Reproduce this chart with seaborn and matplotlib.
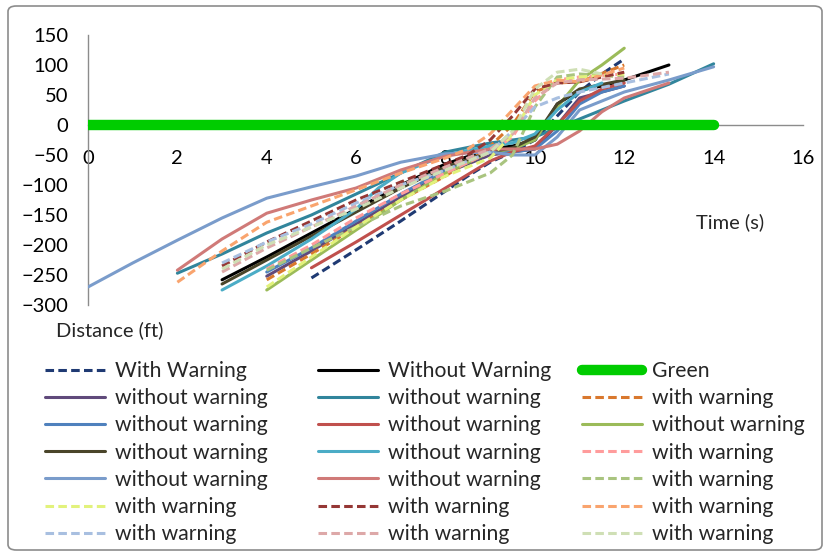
import matplotlib
matplotlib.use("Agg")
import matplotlib.pyplot as plt
import seaborn as sns
import pandas as pd
from matplotlib.patches import FancyBboxPatch
from matplotlib.lines import Line2D

# ---------------- data ----------------
labels = ["With Warning", "Without Warning", "Green",
          "without warning", "without warning", "with warning",
          "without warning", "without warning", "without warning",
          "without warning", "without warning", "with warning",
          "without warning", "without warning", "with warning",
          "with warning", "with warning", "with warning",
          "with warning", "with warning", "with warning"]

colors = ["#1F3A73", "#000000", "#00CC00",
          "#604A7B", "#31859C", "#D9782E",
          "#4F81BD", "#C0504D", "#9BBB59",
          "#4A452A", "#4BACC6", "#FF9C9C",
          "#7A9CCB", "#D07A78", "#A9C47F",
          "#E2F27C", "#953735", "#F9A46E",
          "#A8BFE0", "#DDA8A8", "#CFDFB5"]

dashed = [True, False, False,
          False, False, True,
          False, False, False,
          False, False, True,
          False, False, True,
          True, True, True,
          True, True, True]

time_01 = [5, 6, 7, 8, 8.5, 9, 9.5, 10, 10.5, 11, 11.5, 12]
dist_01 = [-255, -208, -160, -110, -85, -62, -45, -25, 15, 55, 85, 110]
time_02 = [3, 4, 5, 6, 7, 8, 9, 9.5, 10, 10.5, 11, 11.5, 12, 13]
dist_02 = [-258, -220, -180, -140, -100, -65, -40, -35, -25, 35, 58, 65, 75, 100]
time_03 = [0, 14]
dist_03 = [0, 0]
time_04 = [4, 5, 6, 7, 8, 9, 9.5, 10, 10.5, 11, 12]
dist_04 = [-252, -210, -165, -120, -80, -50, -45, -40, 0, 45, 65]
time_05 = [2, 3, 4, 5, 6, 7, 8, 9, 9.5, 10, 10.5, 11, 11.5, 12, 13, 14]
dist_05 = [-247, -215, -180, -150, -115, -80, -45, -30, -25, -20, -5, 10, 25, 40, 68, 102]
time_06 = [4, 5, 6, 7, 8, 8.5, 9, 9.5, 10, 10.5, 11, 12]
dist_06 = [-258, -215, -170, -125, -85, -60, -35, 0, 55, 70, 72, 100]
time_07 = [4, 5, 6, 7, 8, 9, 9.5, 10, 10.5, 11, 11.5, 12]
dist_07 = [-245, -205, -160, -115, -75, -45, -45, -40, -10, 35, 55, 65]
time_08 = [5, 6, 7, 8, 9, 9.5, 10, 10.5, 11, 11.5, 12]
dist_08 = [-238, -195, -150, -105, -60, -45, -35, 0, 40, 60, 70]
time_09 = [4, 5, 6, 7, 8, 9, 9.5, 10, 10.5, 11, 11.5, 12]
dist_09 = [-275, -225, -175, -125, -80, -45, -40, -25, 30, 75, 100, 128]
time_10 = [3, 4, 5, 6, 7, 8, 9, 9.5, 10, 10.5, 11, 12]
dist_10 = [-265, -225, -185, -145, -105, -70, -45, -38, -20, 35, 60, 75]
time_11 = [3, 4, 5, 6, 6.5, 7, 8, 9, 9.5, 10, 10.5, 11, 11.5]
dist_11 = [-275, -235, -190, -140, -105, -80, -50, -35, -30, -15, 25, 55, 70]
time_12 = [4, 5, 6, 7, 8, 9, 9.5, 10, 10.5, 11, 12]
dist_12 = [-240, -200, -155, -115, -80, -45, -20, 40, 75, 80, 85]
time_13 = [0, 1, 2, 3, 4, 5, 6, 7, 7.5, 8, 9, 9.5, 10, 10.5, 11, 12, 13, 14]
dist_13 = [-270, -230, -192, -155, -122, -103, -85, -62, -55, -48, -45, -50, -50, -20, 25, 55, 75, 97]
time_14 = [2, 3, 4, 5, 6, 7, 8, 9, 9.5, 10, 10.5, 11, 11.5, 12, 13]
dist_14 = [-242, -190, -147, -125, -105, -75, -52, -40, -40, -40, -32, -10, 22, 45, 70]
time_15 = [4, 5, 6, 7, 8, 8.5, 9, 9.5, 10, 10.5, 11, 12]
dist_15 = [-242, -205, -170, -135, -110, -95, -80, -50, 30, 80, 85, 80]
time_16 = [4, 5, 6, 7, 8, 9, 9.5, 10, 10.5, 11, 12]
dist_16 = [-270, -220, -170, -125, -85, -55, -15, 50, 75, 80, 85]
time_17 = [3, 4, 5, 6, 7, 8, 8.5, 9, 9.5, 10, 10.5, 11, 12]
dist_17 = [-235, -195, -160, -125, -95, -65, -50, -25, 15, 60, 70, 72, 88]
time_18 = [2, 3, 4, 5, 6, 7, 8, 8.5, 9, 9.5, 10, 10.5, 11, 12]
dist_18 = [-262, -210, -162, -135, -108, -80, -55, -40, -15, 25, 65, 75, 72, 95]
time_19 = [3, 4, 5, 6, 7, 8, 9, 9.5, 10, 10.5, 11, 12, 13]
dist_19 = [-230, -195, -165, -130, -100, -75, -45, -10, 30, 45, 55, 70, 85]
time_20 = [3, 4, 5, 6, 7, 8, 9, 9.5, 10, 10.5, 11, 12, 13]
dist_20 = [-245, -205, -170, -135, -100, -70, -40, -15, 45, 70, 75, 78, 88]
time_21 = [3, 4, 5, 6, 7, 8, 9, 9.5, 10, 10.5, 11, 11.5]
dist_21 = [-240, -200, -170, -140, -105, -75, -45, -10, 60, 88, 93, 85]

times = [time_01, time_02, time_03, time_04, time_05, time_06, time_07,
         time_08, time_09, time_10, time_11, time_12, time_13, time_14,
         time_15, time_16, time_17, time_18, time_19, time_20, time_21]
dists = [dist_01, dist_02, dist_03, dist_04, dist_05, dist_06, dist_07,
         dist_08, dist_09, dist_10, dist_11, dist_12, dist_13, dist_14,
         dist_15, dist_16, dist_17, dist_18, dist_19, dist_20, dist_21]

x_ticks = [0, 2, 4, 6, 8, 10, 12, 14, 16]
y_ticks = [-300, -250, -200, -150, -100, -50, 0, 50, 100, 150]

# ---------------- plot ----------------
sns.set_style("white")
FONT = "Lato"
plt.rcParams["font.family"] = [FONT, "DejaVu Sans"]
FS = 14.5
LFS = 15.2

fig = plt.figure(figsize=(8.28, 5.56), dpi=100)
ax = fig.add_axes([88 / 828, 1 - 305 / 556, (803 - 88) / 828, (305 - 35) / 556])

handles = []
for i, (t, d) in enumerate(zip(times, dists)):
    df = pd.DataFrame({"t": t, "d": d})
    if i == 2:
        kw = dict(linewidth=7.5, solid_capstyle="round", zorder=5)
    elif dashed[i]:
        kw = dict(linewidth=2.2, linestyle=(0, (2.8, 1.4)), zorder=3)
    else:
        kw = dict(linewidth=2.2, zorder=3)
    sns.lineplot(data=df, x="t", y="d", ax=ax, color=colors[i], sort=False,
                 estimator=None, legend=False, **kw)
    h = Line2D([], [], color=colors[i], **{k: v for k, v in kw.items() if k != "zorder"})
    handles.append(h)

ax.set_xlim(0, 16)
ax.set_ylim(-300, 150)
ax.set_xticks(x_ticks)
ax.set_yticks(y_ticks)
ax.set_xlabel("")
ax.set_ylabel("")
for s in ["top", "right"]:
    ax.spines[s].set_visible(False)
ax.spines["bottom"].set_position(("data", 0))
for s in ["left", "bottom"]:
    ax.spines[s].set_color("#8C8C8C")
    ax.spines[s].set_linewidth(1.0)
ax.tick_params(axis="y", length=0, pad=14, labelsize=FS, labelcolor="#000000")
ax.tick_params(axis="x", direction="in", length=4, color="#8C8C8C", pad=18,
               labelsize=FS, labelcolor="#000000")
ax.set_facecolor("white")
ax.patch.set_alpha(0)

fig.text(730 / 828, 1 - 222 / 556, "Time (s)", fontsize=FS, ha="center", va="center")
fig.text(110 / 828, 1 - 330 / 556, "Distance (ft)", fontsize=FS, ha="center", va="center")

# legend: three columns, filled row by row like the original
col_x = [45, 318, 582]
for c in range(3):
    idx = [r * 3 + c for r in range(7)]
    lg = fig.legend([handles[k] for k in idx], [labels[k] for k in idx],
                    loc="upper left", bbox_to_anchor=(col_x[c] / 828, 1 - 361 / 556),
                    ncol=1, frameon=False, fontsize=LFS, handlelength=2.85,
                    handletextpad=0.48, labelspacing=0.34,
                    borderpad=0, borderaxespad=0)

border = FancyBboxPatch((8 / 828, 6 / 556), 814 / 828, 544 / 556,
                        boxstyle="round,pad=0,rounding_size=0.01",
                        transform=fig.transFigure, fill=False,
                        edgecolor="#8C8C8C", linewidth=1.2)
fig.patches.append(border)

fig.savefig("out.png", dpi=100)
